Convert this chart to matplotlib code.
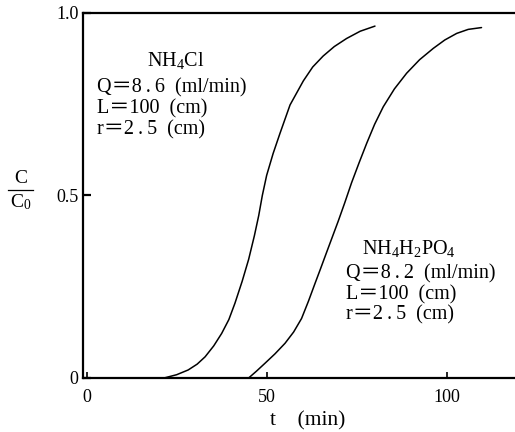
import matplotlib
matplotlib.use("Agg")
import matplotlib.pyplot as plt
from matplotlib.lines import Line2D

plt.rcParams["font.family"] = ["Liberation Serif", "Noto Sans CJK JP"]
plt.rcParams["mathtext.fontset"] = "custom"
plt.rcParams["mathtext.rm"] = "Liberation Serif"
plt.rcParams["mathtext.it"] = "Liberation Serif"

# breakthrough curves, C/C0 against time (min)
t_nh4cl = [21.5, 25.0, 28.2, 30.7, 32.9, 35.3, 37.5, 39.5, 41.2, 43.2,
           45.0, 46.6, 47.8, 48.8, 50.0, 51.8, 53.7, 56.5, 60.2, 62.8,
           65.7, 68.8, 72.2, 76.0, 80.1]
c_nh4cl = [0.0, 0.009, 0.022, 0.038, 0.058, 0.088, 0.122, 0.16, 0.205, 0.265,
           0.325, 0.39, 0.445, 0.50, 0.555, 0.615, 0.67, 0.748, 0.814, 0.852,
           0.882, 0.908, 0.93, 0.95, 0.964]

t_nh4h2po4 = [45.0, 47.2, 49.5, 52.3, 55.1, 57.5, 59.7, 61.6, 63.4, 65.0,
              66.5, 68.2, 69.9, 71.7, 73.6, 75.7, 77.8, 80.0, 82.4, 85.5,
              88.9, 92.5, 96.3, 99.5, 102.8, 106.0, 109.7]
c_nh4h2po4 = [0.0, 0.019, 0.04, 0.066, 0.095, 0.126, 0.163, 0.21, 0.258, 0.30,
              0.34, 0.385, 0.43, 0.48, 0.535, 0.59, 0.643, 0.695, 0.743, 0.792,
              0.835, 0.872, 0.903, 0.926, 0.944, 0.955, 0.96]

x_ticks = [0, 50, 100]
y_ticks = [0, 0.5, 1.0]
y_ticklabels = ["0", "0.5", "1.0"]

label_nh4cl = ["Q\uff1d8\u2009.\u20096  (ml/min)", "L\uff1d100  (cm)",
               "r\uff1d2\u2009.\u20095  (cm)"]
label_nh4h2po4 = ["Q\uff1d8\u2009.\u20092  (ml/min)", "L\uff1d100  (cm)",
                  "r\uff1d2\u2009.\u20095  (cm)"]

fig = plt.figure(figsize=(5.15, 4.32), dpi=100)
ax = fig.add_axes([0.1606, 0.125, 0.8394, 0.845])

ax.plot(t_nh4cl, c_nh4cl, color="black", lw=1.1, solid_capstyle="round")
ax.plot(t_nh4h2po4, c_nh4h2po4, color="black", lw=1.1, solid_capstyle="round")

ax.set_xlim(-1.1, 119)
ax.set_ylim(0, 1.0)

for side in ("left", "bottom", "top"):
    ax.spines[side].set_linewidth(1.6)
ax.spines["right"].set_visible(False)

ax.set_xticks(x_ticks)
ax.set_xticklabels([str(v) for v in x_ticks])
ax.set_yticks(y_ticks)
ax.set_yticklabels(y_ticklabels)
ax.tick_params(axis="x", direction="in", length=4, width=1.2, labelsize=13, pad=8)
ax.tick_params(axis="y", direction="in", length=6, width=1.6, labelsize=13, pad=3)

ax.set_xlabel("t    (min)", fontsize=15.5)
ax.xaxis.set_label_coords(0.521, -0.09)

# C/C0 written as a stacked fraction left of the axis
fig.text(0.04, 0.566, "C", fontsize=14, ha="center", va="bottom")
fig.text(0.04, 0.554, r"$\mathrm{C_0}$", fontsize=14, ha="center", va="top")
fig.add_artist(Line2D([0.016, 0.064], [0.56, 0.56], transform=fig.transFigure,
                      color="black", lw=0.9))

fs = 14.5
ax.text(24.8, 0.871, r"$\mathrm{NH_4Cl}$", fontsize=fs, ha="center", va="center")
for i, line in enumerate(label_nh4cl):
    ax.text(2.9, 0.795 - i * 0.057, line, fontsize=fs, ha="left", va="center")

ax.text(89.5, 0.356, r"$\mathrm{NH_4H_2PO_4}$", fontsize=fs, ha="center", va="center")
for i, line in enumerate(label_nh4h2po4):
    ax.text(72, 0.285 - i * 0.056, line, fontsize=fs, ha="left", va="center")

fig.savefig("out.png", dpi=100)
